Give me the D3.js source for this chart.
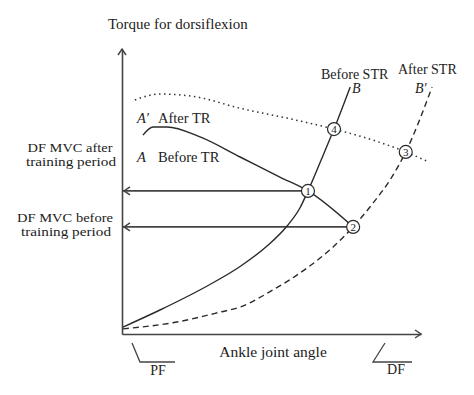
<!DOCTYPE html>
<html>
<head>
<meta charset="utf-8">
<script src="https://cdn.jsdelivr.net/npm/d3@7"></script>
<style>
  body { margin: 0; background: #fff; }
  svg text { font-family: "Liberation Serif", "DejaVu Serif", serif; fill: #222; }
</style>
</head>
<body>
<svg id="chart" width="474" height="395"></svg>
<script>
// curve data (angle, torque)
const beforeSTR = [[0.3,2.3],[12.7,8],[29.4,16.5],[39.5,22.5],[48.5,29.3],[55.2,36],[59.5,42],[62.2,47.7],[66.6,58],[70.9,68.3],[76.3,82.3]];
const afterSTR = [[0.3,1.7],[18.4,4],[32.8,7.3],[39.5,9],[50.5,14.7],[61.9,22],[70.6,29],[77.3,35.7],[84,43.7],[89.6,51.3],[94.9,60.7],[103.7,82.3]];
const beforeTR = [[7,66.3],[10.4,69],[15,69],[26.1,65.7],[39.5,59],[52.8,52.3],[62.2,47.7],[77.3,35.7]];
const afterTR = [[4.3,78],[12.7,80],[25,79],[39.3,75.3],[55,72],[70.9,68.3],[83.7,64.7],[94.9,60.7],[102.7,57.3]];
const points = [
  { id: "1", x: 62.2, y: 47.7 },
  { id: "2", x: 77.3, y: 35.7 },
  { id: "3", x: 94.9, y: 60.7 },
  { id: "4", x: 70.9, y: 68.3 }
];
const mvcLevels = [points[0], points[1]];

const svg = d3.select('#chart');
const x = d3.scaleLinear().domain([0, 100]).range([122, 421]);
const y = d3.scaleLinear().domain([0, 95]).range([334, 49]);
const ink = '#2a2a2a';

// axes without ticks
svg.append('g')
    .attr('transform', 'translate(' + x(0) + ',0)')
    .call(d3.axisLeft(y).tickValues([]).tickSizeOuter(0))
    .select('.domain').attr('stroke', '#444').attr('stroke-width', 1.6);
svg.append('g')
    .attr('transform', 'translate(0,' + y(0) + ')')
    .call(d3.axisBottom(x).tickValues([]).tickSizeOuter(0))
    .select('.domain').attr('stroke', '#444').attr('stroke-width', 1.6);

function chevron(px, py, dir) {
    // open arrowhead, dir: 'up' | 'right' | 'left'
    let d;
    if (dir === 'up') d = `M${px - 4},${py + 6}L${px},${py}L${px + 4},${py + 6}`;
    else if (dir === 'right') d = `M${px - 6},${py - 4}L${px},${py}L${px - 6},${py + 4}`;
    else d = `M${px + 6},${py - 4}L${px},${py}L${px + 6},${py + 4}`;
    svg.append('path').attr('d', d).attr('fill', 'none')
        .attr('stroke', '#444').attr('stroke-width', 1.5);
}
chevron(x(0), y(95), 'up');
chevron(x(100), y(0), 'right');

// horizontal MVC arrows
svg.selectAll('.mvc')
    .data(mvcLevels)
    .enter()
    .append('line')
    .attr('class', 'mvc')
    .attr('x1', d => x(d.x))
    .attr('y1', d => y(d.y))
    .attr('x2', x(0) + 1)
    .attr('y2', d => y(d.y))
    .attr('stroke', '#444')
    .attr('stroke-width', 1.6);
mvcLevels.forEach(d => chevron(x(0) + 2, y(d.y), 'left'));

const line = d3.line()
    .x(d => x(d[0]))
    .y(d => y(d[1]))
    .curve(d3.curveMonotoneX);

svg.append('path').attr('d', line(afterTR)).attr('fill', 'none')
    .attr('stroke', '#333').attr('stroke-width', 1.5).attr('stroke-dasharray', '1.5,3.5');
svg.append('path').attr('d', line(afterSTR)).attr('fill', 'none')
    .attr('stroke', ink).attr('stroke-width', 1.4).attr('stroke-dasharray', '6,4');
svg.append('path').attr('d', line(beforeSTR)).attr('fill', 'none')
    .attr('stroke', ink).attr('stroke-width', 1.4);
svg.append('path').attr('d', line(beforeTR)).attr('fill', 'none')
    .attr('stroke', ink).attr('stroke-width', 1.4);

// numbered intersections
const marks = svg.selectAll('.pt')
    .data(points)
    .enter()
    .append('g')
    .attr('class', 'pt')
    .attr('transform', d => `translate(${x(d.x)},${y(d.y)})`);
marks.append('circle').attr('r', 6.5).attr('fill', '#fff')
    .attr('stroke', ink).attr('stroke-width', 1.2);
marks.append('text').attr('text-anchor', 'middle').attr('y', 4)
    .style('font-size', '11px').text(d => d.id);

// texts
function label(tx, ty, str, opts) {
    const t = svg.append('text').attr('x', tx).attr('y', ty)
        .style('font-size', (opts && opts.size ? opts.size : 14) + 'px')
        .attr('text-anchor', opts && opts.anchor ? opts.anchor : 'start')
        .text(str);
    if (opts && opts.italic) t.style('font-style', 'italic');
    if (opts && opts.width) t.attr('textLength', opts.width).attr('lengthAdjust', 'spacingAndGlyphs');
    return t;
}
label(108, 29, 'Torque for dorsiflexion', { size: 15 });
label(70, 152, 'DF MVC after', { anchor: 'middle', size: 12.5, width: 85 });
label(71, 166, 'training period', { anchor: 'middle', size: 12.5, width: 90 });
label(65, 222, 'DF MVC before', { anchor: 'middle', size: 12.5, width: 96 });
label(66, 236, 'training period', { anchor: 'middle', size: 12.5, width: 90 });
label(137, 123, 'A′', { italic: true, size: 14.5 });
label(158, 123, 'After TR', { size: 14.5 });
label(137, 162, 'A', { italic: true, size: 14.5 });
label(158, 162, 'Before TR', { size: 14.5 });
label(321, 79, 'Before STR');
label(352, 93, 'B', { italic: true });
label(398, 74, 'After STR');
label(415, 93, 'B′', { italic: true });
label(273, 357, 'Ankle joint angle', { anchor: 'middle', size: 15.5 });
label(158, 375, 'PF', { anchor: 'middle' });
label(396, 374, 'DF', { anchor: 'middle' });

// PF / DF direction marks
svg.append('path').attr('d', 'M132,343L140,362L175,362').attr('fill', 'none')
    .attr('stroke', '#444').attr('stroke-width', 1.3);
svg.append('path').attr('d', 'M385,343L373,362L412,362').attr('fill', 'none')
    .attr('stroke', '#444').attr('stroke-width', 1.3);
</script>
</body>
</html>
